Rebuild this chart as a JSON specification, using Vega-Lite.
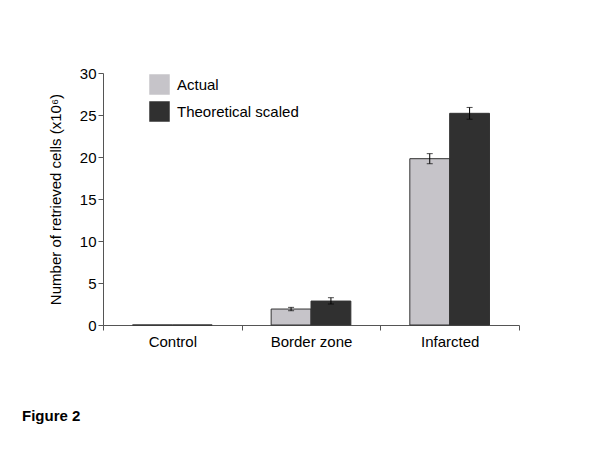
{
  "$schema": "https://vega.github.io/schema/vega-lite/v6.json",
  "autosize": "none",
  "width": 416,
  "height": 252,
  "padding": {"left": 103, "top": 73, "right": 81, "bottom": 125},
  "background": "white",
  "config": {
    "font": "Liberation Sans",
    "view": {"stroke": null},
    "axis": {"labelFont": "Liberation Sans", "titleFont": "Liberation Sans", "labelColor": "black", "titleColor": "black", "domainColor": "#555", "tickColor": "#555", "grid": false}
  },
  "title": {"text": "Figure 2", "orient": "bottom", "anchor": "start", "frame": "group", "dx": -81, "offset": 60, "fontSize": 15, "fontWeight": "bold", "font": "Liberation Sans", "color": "black"},
  "data": {"values": [
    {"group": "Control", "series": "Actual", "value": 0, "lower": null, "upper": null},
    {"group": "Control", "series": "Theoretical scaled", "value": 0, "lower": null, "upper": null},
    {"group": "Border zone", "series": "Actual", "value": 1.9, "lower": 1.7, "upper": 2.1},
    {"group": "Border zone", "series": "Theoretical scaled", "value": 2.85, "lower": 2.5, "upper": 3.25},
    {"group": "Infarcted", "series": "Actual", "value": 19.8, "lower": 19.2, "upper": 20.4},
    {"group": "Infarcted", "series": "Theoretical scaled", "value": 25.2, "lower": 24.5, "upper": 25.9}
  ]},
  "encoding": {
    "x": {"field": "group", "type": "nominal", "sort": ["Control", "Border zone", "Infarcted"],
      "scale": {"paddingInner": 0, "paddingOuter": 0},
      "axis": {"title": null, "labelAngle": 0, "labelFontSize": 15, "labelPadding": 4, "tickBand": "extent", "tickSize": 5}},
    "xOffset": {"field": "series", "type": "nominal", "sort": ["Actual", "Theoretical scaled"], "scale": {"paddingInner": 0, "paddingOuter": 0.74}}
  },
  "layer": [
    {
      "mark": {"type": "bar", "stroke": "#333", "strokeWidth": 1},
      "encoding": {
        "y": {"field": "value", "type": "quantitative", "scale": {"domain": [0, 30], "nice": false},
          "axis": {"title": "Number of retrieved cells (x10⁶)", "titleFontSize": 15, "titleFontWeight": "normal", "titlePadding": 16, "labelFontSize": 15, "values": [0, 5, 10, 15, 20, 25, 30], "labelOverlap": false, "tickSize": 5, "labelPadding": 2}},
        "fill": {"field": "series", "type": "nominal", "sort": ["Actual", "Theoretical scaled"],
          "scale": {"domain": ["Actual", "Theoretical scaled"], "range": ["#c6c4c9", "#303030"]},
          "legend": {"title": null, "orient": "none", "legendX": 46, "legendY": 1, "symbolType": "square", "symbolSize": 420, "symbolStrokeWidth": 0, "labelFontSize": 15, "labelColor": "black", "rowPadding": 6, "labelOffset": 7}}
      }
    },
    {
      "mark": {"type": "rule", "color": "black", "strokeWidth": 1},
      "encoding": {"y": {"field": "lower", "type": "quantitative", "axis": {"title": "Number of retrieved cells (x10⁶)", "titleFontSize": 15, "titleFontWeight": "normal", "titlePadding": 16, "labelFontSize": 15, "values": [0, 5, 10, 15, 20, 25, 30], "labelOverlap": false, "tickSize": 5, "labelPadding": 2}}, "y2": {"field": "upper"}}
    },
    {
      "mark": {"type": "tick", "color": "black", "size": 6, "thickness": 1},
      "encoding": {"y": {"field": "lower", "type": "quantitative", "axis": {"title": "Number of retrieved cells (x10⁶)", "titleFontSize": 15, "titleFontWeight": "normal", "titlePadding": 16, "labelFontSize": 15, "values": [0, 5, 10, 15, 20, 25, 30], "labelOverlap": false, "tickSize": 5, "labelPadding": 2}}}
    },
    {
      "mark": {"type": "tick", "color": "black", "size": 6, "thickness": 1},
      "encoding": {"y": {"field": "upper", "type": "quantitative", "axis": {"title": "Number of retrieved cells (x10⁶)", "titleFontSize": 15, "titleFontWeight": "normal", "titlePadding": 16, "labelFontSize": 15, "values": [0, 5, 10, 15, 20, 25, 30], "labelOverlap": false, "tickSize": 5, "labelPadding": 2}}}
    }
  ]
}
